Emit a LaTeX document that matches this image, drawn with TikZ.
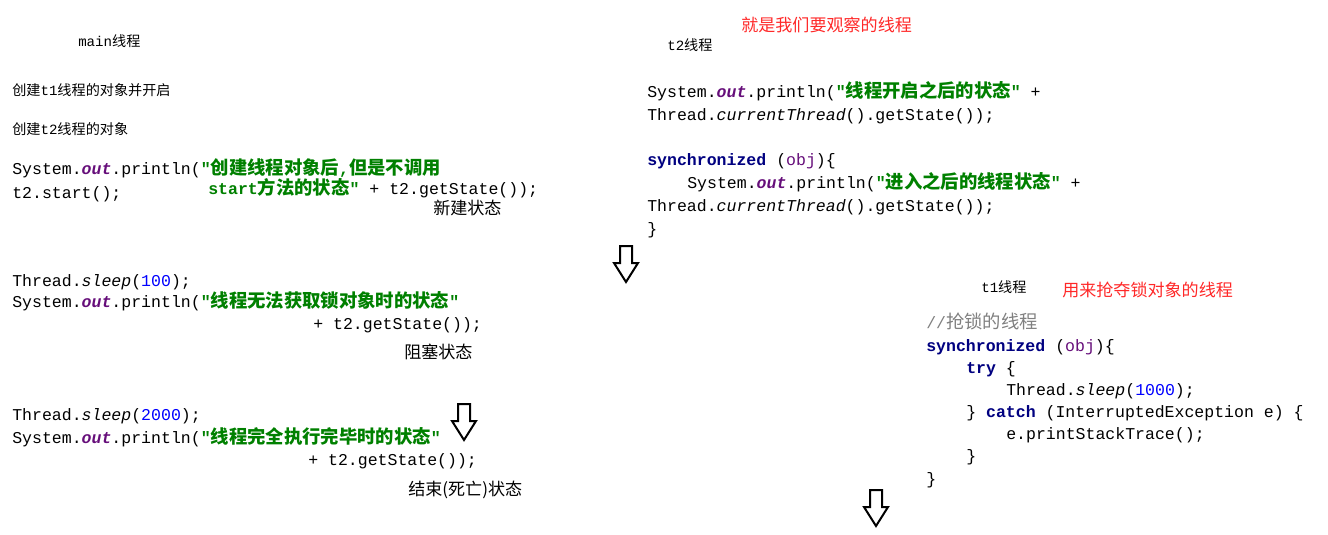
\documentclass[tikz,border=0pt]{standalone}
\usepackage{fontspec}
\setmonofont{Liberation Mono}
\newfontfamily\cjkfont{Noto Sans CJK SC}
\newfontfamily\cjkcode[Scale=1.11]{Noto Sans CJK SC}
\definecolor{kwnavy}{RGB}{0,0,128}
\definecolor{fieldpurple}{RGB}{102,14,122}
\definecolor{strgreen}{RGB}{0,128,0}
\definecolor{numblue}{RGB}{0,0,255}
\definecolor{cmtgray}{RGB}{128,128,128}
\definecolor{notered}{RGB}{255,40,40}
\newcommand\zh[1]{{\cjkcode #1}}
\newcommand\jkw[1]{{\color{kwnavy}\bfseries #1}}
\newcommand\jfld[1]{{\color{fieldpurple}\bfseries\itshape #1}}
\newcommand\jvar[1]{{\color{fieldpurple}#1}}
\newcommand\jstr[1]{{\color{strgreen}\bfseries #1}}
\newcommand\jnum[1]{{\color{numblue}#1}}
\newcommand\jit[1]{{\itshape #1}}

\begin{document}
\begin{tikzpicture}[x=0.75pt,y=-0.75pt,code/.style={anchor=base west,inner sep=0pt,font=\fontsize{12.4}{16}\selectfont\ttfamily},note/.style={anchor=base west,inner sep=0pt,font=\fontsize{10.6}{12}\selectfont\cjkfont},state/.style={anchor=base west,inner sep=0pt,font=\fontsize{12.8}{14}\selectfont\cjkfont},tip/.style={state,text=notered},downarr/.style={draw=black,line width=1.5pt,fill=white,line join=miter}]
\useasboundingbox (0,0) rectangle (1328,535);
% main thread
\node[note](mainlbl) at (78,47){{\ttfamily main}线程};
\node[note](t1make) at (12,95){创建{\ttfamily t1}线程的对象并开启};
\node[note](t2make) at (12,134){创建{\ttfamily t2}线程的对象};
\node[code](newa) at (12,174){System.\jfld{out}.println(\jstr{"\zh{创建线程对象后},\zh{但是不调用}}};
\node[code](newb) at (208,194){\jstr{start\zh{方法的状态}"} + t2.getState());};
\node[code](start) at (12,198){t2.start();};
\node[state](stnew) at (433,214){新建状态};
\node[code](sleepa) at (12,286){Thread.\jit{sleep}(\jnum{100});};
\node[code](blocka) at (12,307){System.\jfld{out}.println(\jstr{"\zh{线程无法获取锁对象时的状态}"}};
\node[code](blockb) at (313,329){+ t2.getState());};
\node[state](stblock) at (404,358){阻塞状态};
\node[code](sleepb) at (12,420){Thread.\jit{sleep}(\jnum{2000});};
\node[code](enda) at (12,443){System.\jfld{out}.println(\jstr{"\zh{线程完全执行完毕时的状态}"}};
\node[code](endb) at (308,465){+ t2.getState());};
\node[state](stend) at (408,495){结束(死亡)状态};
% t2 thread
\node[tip](t2note) at (741,32){就是我们要观察的线程};
\node[note](t2lbl) at (667,51){{\ttfamily t2}线程};
\node[code](t2a) at (647,98){System.\jfld{out}.println(\jstr{"\zh{线程开启之后的状态}"} +};
\node[code](t2b) at (647,121){Thread.\jit{currentThread}().getState());};
\node[code](t2sync) at (647,165){\jkw{synchronized} (\jvar{obj})\{};
\node[code](t2c) at (687,188){System.\jfld{out}.println(\jstr{"\zh{进入之后的线程状态}"} +};
\node[code](t2d) at (647,211){Thread.\jit{currentThread}().getState());};
\node[code](t2end) at (647,234){\}};
% t1 thread
\node[note](t1lbl) at (981,292){{\ttfamily t1}线程};
\node[tip](t1note) at (1062,296){用来抢夺锁对象的线程};
\node[code,text=cmtgray](t1cmt) at (926,328){//\zh{抢锁的线程}};
\node[code](t1sync) at (926,351){\jkw{synchronized} (\jvar{obj})\{};
\node[code](t1try) at (966,373){\jkw{try} \{};
\node[code](t1sleep) at (1006,395){Thread.\jit{sleep}(\jnum{1000});};
\node[code](t1catch) at (966,417){\} \jkw{catch} (InterruptedException e) \{};
\node[code](t1trace) at (1006,439){e.printStackTrace();};
\node[code](t1tryend) at (966,461){\}};
\node[code](t1end) at (926,484){\}};
% hollow down arrows
\foreach \x/\y in {626/246,464/404,876/490}
  \draw[downarr] (\x-6,\y) -- (\x+6,\y) -- (\x+6,\y+17) -- (\x+12,\y+17) -- (\x,\y+36) -- (\x-12,\y+17) -- (\x-6,\y+17) -- cycle;
\end{tikzpicture}
\end{document}
